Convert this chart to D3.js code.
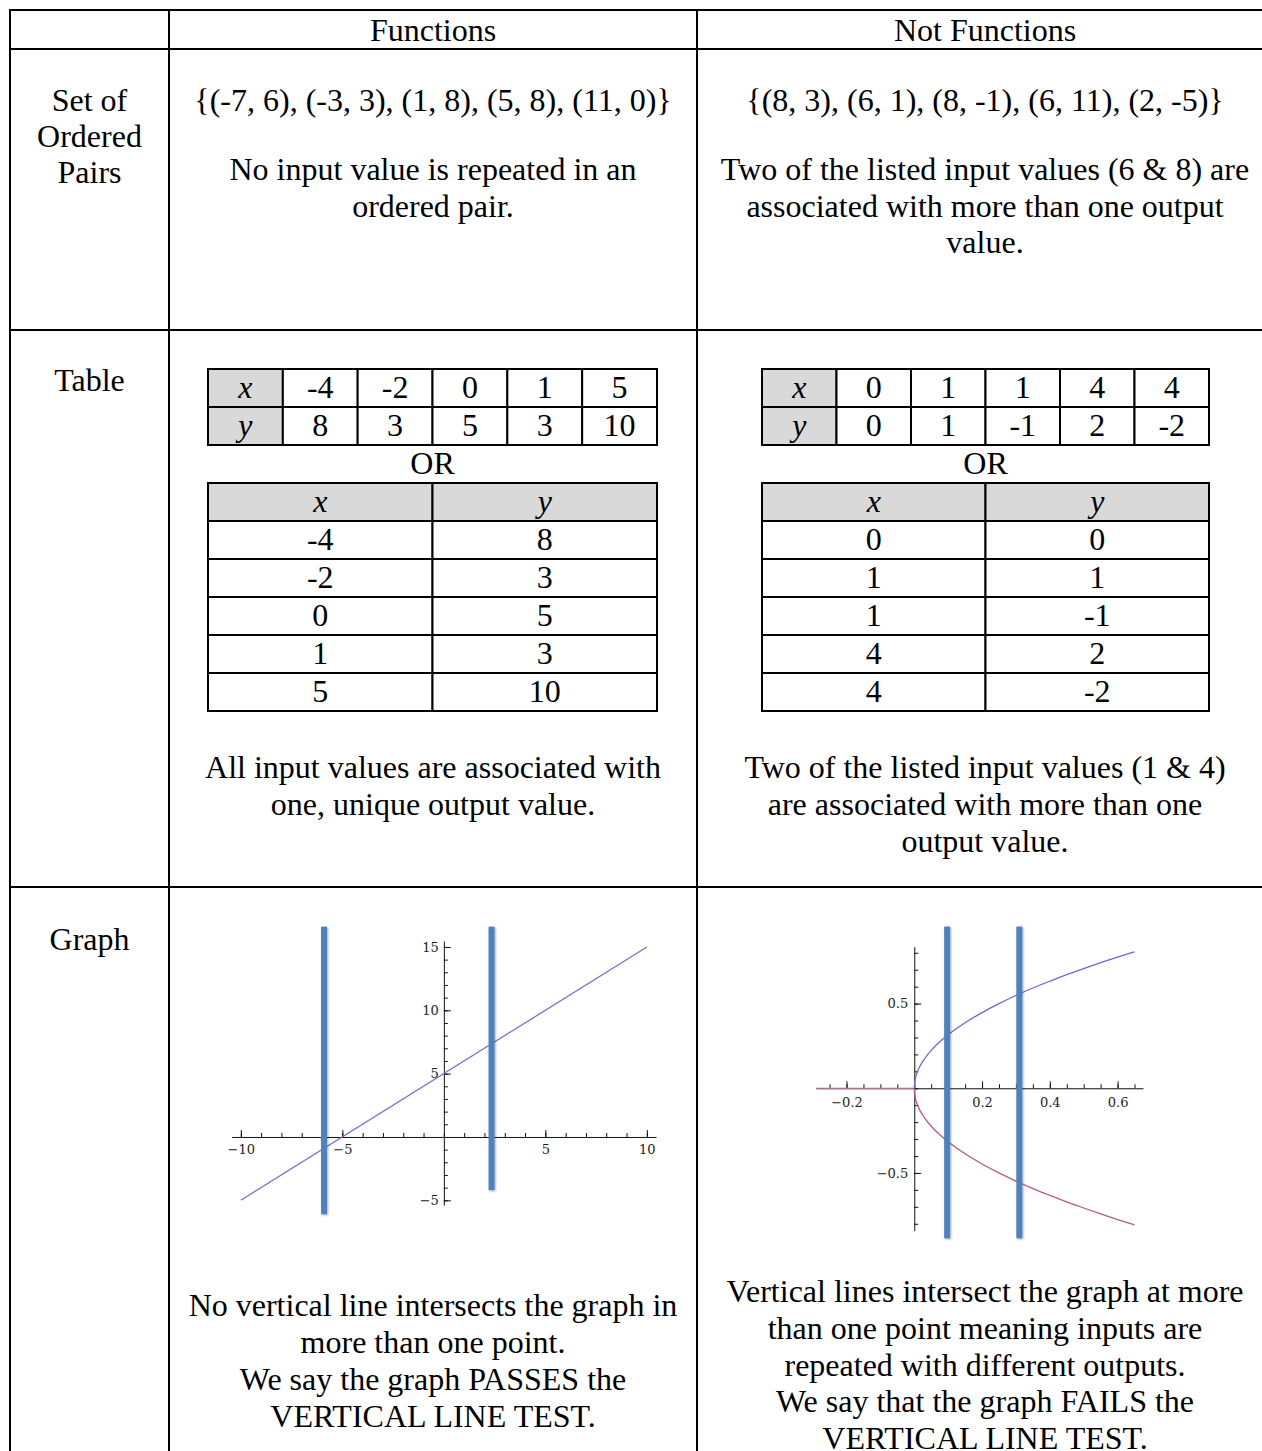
<!DOCTYPE html>
<html>
<head>
<meta charset="utf-8">
<script src="https://cdn.jsdelivr.net/npm/d3@7"></script>
<style>
  html, body { margin: 0; padding: 0; background: #fff; }
  svg { display: block; }
  .cell-text { font-family: 'Liberation Serif', 'Times New Roman', serif; font-size: 32px; fill: #000; }
  .tick text { font-family: 'DejaVu Serif', serif; font-size: 13px; fill: #222; }
</style>
</head>
<body>
<svg id="sheet" width="1262" height="1451"></svg>
<script>
// headings
let colHeads = ['Functions', 'Not Functions'];
let rowHeads = [['Set of', 'Ordered', 'Pairs'], ['Table'], ['Graph']];

// ordered pairs
let funcPairs = [[-7, 6], [-3, 3], [1, 8], [5, 8], [11, 0]];
let notFuncPairs = [[8, 3], [6, 1], [8, -1], [6, 11], [2, -5]];
let pairNotes = [
    ['No input value is repeated in an', 'ordered pair.'],
    ['Two of the listed input values (6 & 8) are', 'associated with more than one output', 'value.'],
];

// tables
let funcX = [-4, -2, 0, 1, 5];
let funcY = [8, 3, 5, 3, 10];
let notFuncX = [0, 1, 1, 4, 4];
let notFuncY = [0, 1, -1, 2, -2];
let tableNotes = [
    ['All input values are associated with', 'one, unique output value.'],
    ['Two of the listed input values (1 & 4)', 'are associated with more than one', 'output value.'],
];

// graph 1 : straight line + two vertical test lines
let lineX = [-10, 10];
let lineY = [-5, 15];
let g1TestX = [-5.9, 2.35];
let g1TestTop = [16.6, 16.6];
let g1TestBottom = [-6.1, -4.2];
let g1XTicks = [-10, -5, 5, 10];
let g1YTicks = [-5, 5, 10, 15];

// graph 2 : sideways parabola + two vertical test lines
let curveX = [0, 0.002, 0.01, 0.03, 0.06, 0.1, 0.15, 0.2, 0.25, 0.3, 0.35, 0.4, 0.45, 0.5, 0.55, 0.6, 0.65];
let upperY = [0, 0.045, 0.1, 0.173, 0.245, 0.316, 0.387, 0.447, 0.5, 0.548, 0.592, 0.632, 0.671, 0.707, 0.742, 0.775, 0.806];
let lowerY = [0, -0.045, -0.1, -0.173, -0.245, -0.316, -0.387, -0.447, -0.5, -0.548, -0.592, -0.632, -0.671, -0.707, -0.742, -0.775, -0.806];
let flatX = [-0.29, 0];
let flatY = [0, 0];
let g2TestX = [0.097, 0.31];
let g2TestTop = [0.955, 0.955];
let g2TestBottom = [-0.886, -0.886];
let g2XTicks = [-0.2, 0.2, 0.4, 0.6];
let g2YTicks = [-0.5, 0.5];

let graphNotes = [
    ['No vertical line intersects the graph in', 'more than one point.', 'We say the graph PASSES the', 'VERTICAL LINE TEST.'],
    ['Vertical lines intersect the graph at more', 'than one point meaning inputs are', 'repeated with different outputs.', 'We say that the graph FAILS the', 'VERTICAL LINE TEST.'],
];

let svg = d3.select('#sheet');

let defs = svg.append('defs');
let shadow = defs.append('filter').attr('id', 'shade')
    .attr('x', '-100%').attr('width', '300%').attr('y', '-5%').attr('height', '110%');
shadow.append('feDropShadow')
    .attr('dx', 1).attr('dy', 1).attr('stdDeviation', 1.2)
    .attr('flood-color', '#000').attr('flood-opacity', 0.35);

// outer grid
let colEdges = [10, 169, 697, 1273];
let rowEdges = [10, 49, 330, 887, 1470];
let colMid = [433, 985];
let headMid = 89.5;

let grid = svg.append('g').attr('class', 'grid');
grid.selectAll('line.h')
    .data(rowEdges)
    .enter()
    .append('line')
    .attr('x1', colEdges[0] - 1).attr('x2', colEdges[3])
    .attr('y1', (d) => d).attr('y2', (d) => d)
    .attr('stroke', '#000').attr('stroke-width', 2);
grid.selectAll('line.v')
    .data(colEdges)
    .enter()
    .append('line')
    .attr('x1', (d) => d).attr('x2', (d) => d)
    .attr('y1', rowEdges[0] - 1).attr('y2', rowEdges[4])
    .attr('stroke', '#000').attr('stroke-width', 2);

function textLines(arr, x, y0, lh) {
    svg.append('g')
        .selectAll('text')
        .data(arr)
        .enter()
        .append('text')
        .attr('class', 'cell-text')
        .attr('text-anchor', 'middle')
        .attr('x', x)
        .attr('y', (d, i) => y0 + i * lh)
        .text((d) => d);
}

// headings
colHeads.forEach((d, i) => textLines([d], colMid[i], 41, 0));
textLines(rowHeads[0], headMid, 111, 36);
textLines(rowHeads[1], headMid, 391, 0);
textLines(rowHeads[2], headMid, 950, 0);

// ordered pairs row
let fmtSet = (pairs) => '{' + pairs.map((p) => `(${p[0]}, ${p[1]})`).join(', ') + '}';
textLines([fmtSet(funcPairs)], colMid[0], 111, 0);
textLines([fmtSet(notFuncPairs)], colMid[1], 111, 0);
textLines(pairNotes[0], colMid[0], 180, 36.5);
textLines(pairNotes[1], colMid[1], 180, 36.5);

// tables row
function drawTables(left, right, xs, ys) {
    let g = svg.append('g');
    let rowH = 38;

    // horizontal table
    let hx = d3.scaleBand().domain(d3.range(xs.length + 1)).range([left, right]);
    let hy = d3.scaleBand().domain(['x', 'y']).range([369, 369 + 2 * rowH]);
    let hCells = [];
    ['x', 'y'].forEach((r) => {
        let vals = r === 'x' ? xs : ys;
        hCells.push({ r: r, c: 0, t: r, head: true });
        vals.forEach((v, i) => hCells.push({ r: r, c: i + 1, t: v, head: false }));
    });
    let hc = g.selectAll('g.hcell').data(hCells).enter().append('g');
    hc.append('rect')
        .attr('x', (d) => hx(d.c)).attr('y', (d) => hy(d.r))
        .attr('width', hx.bandwidth()).attr('height', hy.bandwidth())
        .attr('fill', (d) => (d.head ? '#d9d9d9' : '#fff'))
        .attr('stroke', '#000').attr('stroke-width', 2);
    hc.append('text')
        .attr('class', 'cell-text')
        .attr('text-anchor', 'middle')
        .attr('x', (d) => hx(d.c) + hx.bandwidth() / 2)
        .attr('y', (d) => hy(d.r) + hy.bandwidth() / 2 + 10)
        .style('font-style', (d) => (d.head ? 'italic' : null))
        .text((d) => d.t);

    g.append('text')
        .attr('class', 'cell-text')
        .attr('text-anchor', 'middle')
        .attr('x', (left + right) / 2)
        .attr('y', 474)
        .text('OR');

    // vertical table
    let vx = d3.scaleBand().domain(['x', 'y']).range([left, right]);
    let vy = d3.scaleBand().domain(d3.range(xs.length + 1)).range([483, 483 + (xs.length + 1) * rowH]);
    let vCells = [];
    ['x', 'y'].forEach((c) => {
        let vals = c === 'x' ? xs : ys;
        vCells.push({ c: c, r: 0, t: c, head: true });
        vals.forEach((v, i) => vCells.push({ c: c, r: i + 1, t: v, head: false }));
    });
    let vc = g.selectAll('g.vcell').data(vCells).enter().append('g');
    vc.append('rect')
        .attr('x', (d) => vx(d.c)).attr('y', (d) => vy(d.r))
        .attr('width', vx.bandwidth()).attr('height', vy.bandwidth())
        .attr('fill', (d) => (d.head ? '#d9d9d9' : '#fff'))
        .attr('stroke', '#000').attr('stroke-width', 2);
    vc.append('text')
        .attr('class', 'cell-text')
        .attr('text-anchor', 'middle')
        .attr('x', (d) => vx(d.c) + vx.bandwidth() / 2)
        .attr('y', (d) => vy(d.r) + vy.bandwidth() / 2 + 10)
        .style('font-style', (d) => (d.head ? 'italic' : null))
        .text((d) => d.t);
}
drawTables(208, 657, funcX, funcY);
drawTables(762, 1209, notFuncX, notFuncY);
textLines(tableNotes[0], colMid[0], 778, 37);
textLines(tableNotes[1], colMid[1], 778, 37);

// graphs row
function drawAxes(g, x, y, o) {
    let x0 = y(0), y0 = x(0);
    let xa = g.append('g').attr('transform', `translate(0,${x0})`);
    xa.call(d3.axisBottom(x).tickValues(o.xMinor).tickSize(-4).tickSizeOuter(0).tickFormat(''));
    xa.call((s) => s.select('.domain').remove());
    g.append('g')
        .attr('transform', `translate(0,${x0})`)
        .call(d3.axisBottom(x).tickValues(o.xMajor).tickSize(-7).tickSizeOuter(0)
            .tickPadding(o.xPad).tickFormat(o.fmt));
    let ya = g.append('g').attr('transform', `translate(${y0},0)`);
    ya.call(d3.axisLeft(y).tickValues(o.yMinor).tickSize(-4).tickSizeOuter(0).tickFormat(''));
    ya.call((s) => s.select('.domain').remove());
    g.append('g')
        .attr('transform', `translate(${y0},0)`)
        .call(d3.axisLeft(y).tickValues(o.yMajor).tickSize(-7).tickSizeOuter(0)
            .tickPadding(o.yPad).tickFormat(o.fmt));
    g.selectAll('.domain, .tick line').attr('stroke', '#111').attr('stroke-width', 1);
}

function drawTests(g, x, y, xs, tops, bottoms) {
    g.append('g')
        .selectAll('rect')
        .data(xs)
        .enter()
        .append('rect')
        .attr('x', (d) => x(d) - 3)
        .attr('width', 6)
        .attr('y', (d, i) => y(tops[i]))
        .attr('height', (d, i) => y(bottoms[i]) - y(tops[i]))
        .attr('fill', '#4f81bd')
        .attr('filter', 'url(#shade)');
}

// graph 1
let x1 = d3.scaleLinear().domain([-10.45, 10.45]).range([231.7, 656]);
let y1 = d3.scaleLinear().domain([-5.37, 15.47]).range([1205, 941]);
let g1 = svg.append('g');
drawAxes(g1, x1, y1, {
    xMinor: d3.range(-10, 11), xMajor: g1XTicks,
    yMinor: d3.range(-5, 16), yMajor: g1YTicks,
    xPad: 8, yPad: 5, fmt: d3.format('d'),
});
g1.append('path')
    .datum(d3.zip(lineX, lineY))
    .attr('d', d3.line().x((d) => x1(d[0])).y((d) => y1(d[1])))
    .attr('fill', 'none').attr('stroke', '#7373d2').attr('stroke-width', 1.3);
drawTests(g1, x1, y1, g1TestX, g1TestTop, g1TestBottom);

// graph 2
let x2 = d3.scaleLinear().domain([-0.29, 0.675]).range([816, 1143]);
let y2 = d3.scaleLinear().domain([-0.841, 0.836]).range([1230.7, 946.7]);
let g2 = svg.append('g');
drawAxes(g2, x2, y2, {
    xMinor: d3.range(-0.25, 0.66, 0.05), xMajor: g2XTicks,
    yMinor: d3.range(-0.8, 0.81, 0.1), yMajor: g2YTicks,
    xPad: 10, yPad: 6, fmt: d3.format('.1f'),
});
let curve = d3.line().x((d) => x2(d[0])).y((d) => y2(d[1])).curve(d3.curveMonotoneX);
g2.append('path')
    .datum(d3.zip(flatX, flatY))
    .attr('d', curve)
    .attr('fill', 'none').attr('stroke', '#b86a92').attr('stroke-width', 1.2);
g2.append('path')
    .datum(d3.zip(curveX, upperY))
    .attr('d', curve)
    .attr('fill', 'none').attr('stroke', '#6a6ad0').attr('stroke-width', 1.3);
g2.append('path')
    .datum(d3.zip(curveX, lowerY))
    .attr('d', curve)
    .attr('fill', 'none').attr('stroke', '#b55a88').attr('stroke-width', 1.3);
drawTests(g2, x2, y2, g2TestX, g2TestTop, g2TestBottom);

textLines(graphNotes[0], colMid[0], 1316, 37);
textLines(graphNotes[1], colMid[1], 1302, 36.75);
</script>
</body>
</html>
